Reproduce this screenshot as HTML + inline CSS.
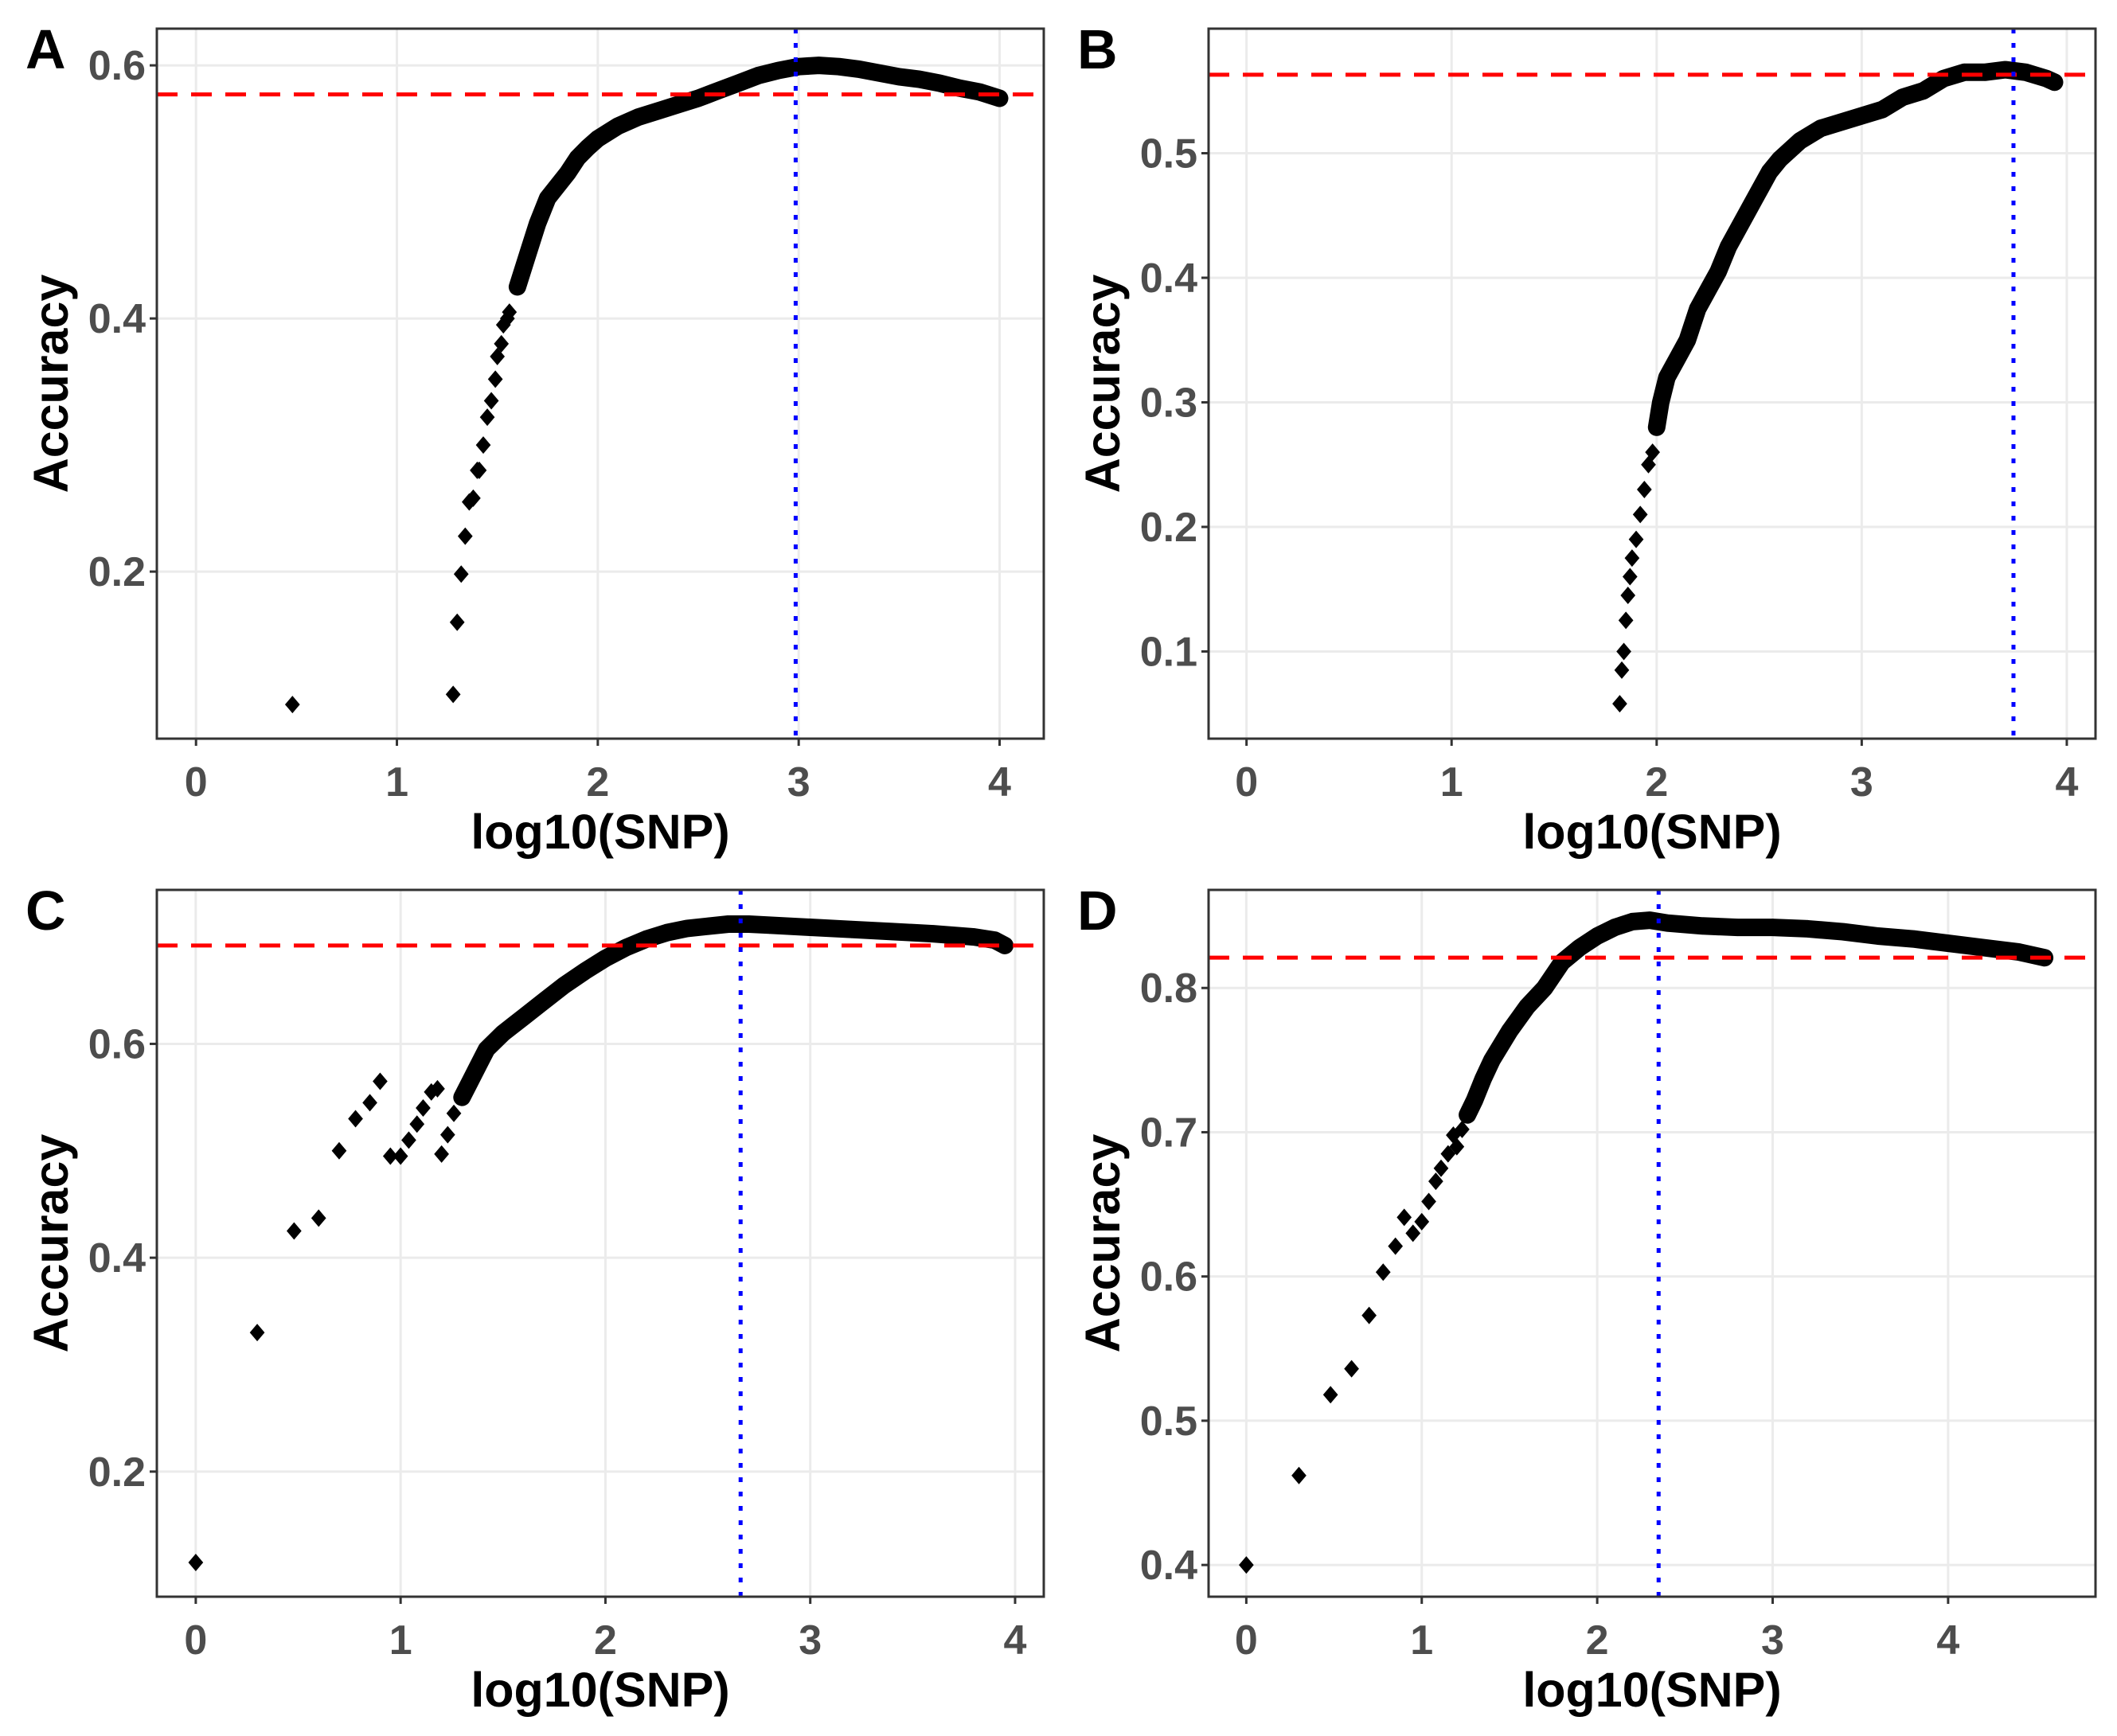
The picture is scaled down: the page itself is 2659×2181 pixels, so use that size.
<!DOCTYPE html>
<html><head><meta charset="utf-8">
<style>
html,body{margin:0;padding:0;background:#fff;}
svg{display:block;}
text{font-family:"Liberation Sans",Arial,sans-serif;}
</style></head>
<body>
<svg id="chart" width="2659" height="2181" viewBox="0 0 2659 2181" xmlns="http://www.w3.org/2000/svg"></svg>
<script>
// Panel A data
const aX = [0.48,1.28,1.30,1.32,1.34,1.36,1.38,1.40,1.41,1.43,1.45,1.47,1.49,1.50,1.52,1.53,1.55,1.56,1.60,1.65,1.70,1.75,1.80,1.85,1.90,1.95,2.00,2.10,2.20,2.30,2.40,2.50,2.60,2.70,2.80,2.90,3.00,3.10,3.20,3.30,3.40,3.50,3.60,3.70,3.80,3.90,4.00];
const aY = [0.095,0.103,0.160,0.198,0.228,0.255,0.258,0.280,0.280,0.300,0.322,0.335,0.352,0.370,0.380,0.395,0.400,0.405,0.425,0.450,0.475,0.495,0.505,0.515,0.527,0.535,0.542,0.552,0.559,0.564,0.569,0.574,0.580,0.586,0.592,0.596,0.599,0.600,0.599,0.597,0.594,0.591,0.589,0.586,0.582,0.579,0.574];
const aDenseFrom = 18;
// Panel B data
const bX = [1.82,1.83,1.84,1.85,1.86,1.87,1.88,1.90,1.92,1.94,1.96,1.98,2.00,2.02,2.05,2.10,2.15,2.20,2.25,2.30,2.35,2.40,2.45,2.50,2.55,2.60,2.70,2.80,2.90,3.00,3.10,3.20,3.30,3.40,3.50,3.60,3.70,3.80,3.90,3.94];
const bY = [0.058,0.085,0.100,0.125,0.145,0.160,0.175,0.190,0.210,0.230,0.250,0.260,0.280,0.300,0.320,0.335,0.350,0.375,0.390,0.405,0.425,0.440,0.455,0.470,0.485,0.495,0.510,0.520,0.525,0.530,0.535,0.545,0.550,0.560,0.565,0.565,0.567,0.565,0.560,0.557];
const bDenseFrom = 12;
// Panel C data
const cX = [0,0.30,0.48,0.60,0.70,0.78,0.85,0.90,0.95,1.00,1.04,1.08,1.11,1.15,1.18,1.20,1.23,1.26,1.30,1.34,1.38,1.42,1.50,1.60,1.70,1.80,1.90,2.00,2.10,2.20,2.30,2.40,2.50,2.60,2.70,2.80,3.00,3.20,3.40,3.60,3.80,3.90,3.95];
const cY = [0.115,0.330,0.425,0.437,0.500,0.530,0.545,0.565,0.495,0.495,0.510,0.525,0.540,0.555,0.558,0.497,0.515,0.535,0.550,0.565,0.580,0.595,0.610,0.625,0.640,0.655,0.668,0.680,0.690,0.698,0.704,0.708,0.710,0.712,0.712,0.711,0.709,0.707,0.705,0.703,0.700,0.697,0.692];
const cDenseFrom = 18;
// Panel D data
const dX = [0,0.30,0.48,0.60,0.70,0.78,0.85,0.90,0.95,1.00,1.04,1.08,1.11,1.15,1.18,1.20,1.23,1.26,1.30,1.35,1.40,1.50,1.60,1.70,1.80,1.90,2.00,2.10,2.20,2.30,2.40,2.60,2.80,3.00,3.20,3.40,3.60,3.80,4.00,4.20,4.40,4.55];
const dY = [0.400,0.462,0.518,0.536,0.573,0.603,0.621,0.641,0.630,0.638,0.652,0.666,0.675,0.685,0.698,0.690,0.702,0.712,0.722,0.737,0.750,0.770,0.787,0.800,0.818,0.828,0.836,0.842,0.846,0.847,0.845,0.843,0.842,0.842,0.841,0.839,0.836,0.834,0.831,0.828,0.825,0.821];
const dDenseFrom = 17;
// tick labels
const aXTicks = [0,1,2,3,4], aYTicks = [0.2,0.4,0.6];
const bXTicks = [0,1,2,3,4], bYTicks = [0.1,0.2,0.3,0.4,0.5];
const cXTicks = [0,1,2,3,4], cYTicks = [0.2,0.4,0.6];
const dXTicks = [0,1,2,3,4], dYTicks = [0.4,0.5,0.6,0.7,0.8];
// reference lines
const aRef = {h:0.577, v:2.985};
const bRef = {h:0.563, v:3.74};
const cRef = {h:0.692, v:2.66};
const dRef = {h:0.821, v:2.35};

const NS = "http://www.w3.org/2000/svg";
const svg = document.getElementById('chart');
function mk(tag, attrs, parent){
  const e = document.createElementNS(NS, tag);
  for (const k in attrs) e.setAttribute(k, attrs[k]);
  (parent||svg).appendChild(e);
  return e;
}
const panels = [
  {id:'a', letter:'A', L:197, R:1311, T:36, B:928, xd:[-0.195,4.22], yd:[0.068,0.629], X:aX, Y:aY, dense:aDenseFrom, xt:aXTicks, yt:aYTicks, ref:aRef, dec:1},
  {id:'b', letter:'B', L:1518, R:2632, T:36, B:928, xd:[-0.185,4.14], yd:[0.030,0.600], X:bX, Y:bY, dense:bDenseFrom, xt:bXTicks, yt:bYTicks, ref:bRef, dec:1},
  {id:'c', letter:'C', L:197, R:1311, T:1118, B:2006, xd:[-0.19,4.14], yd:[0.083,0.744], X:cX, Y:cY, dense:cDenseFrom, xt:cXTicks, yt:cYTicks, ref:cRef, dec:1},
  {id:'d', letter:'D', L:1518, R:2632, T:1118, B:2006, xd:[-0.215,4.84], yd:[0.378,0.868], X:dX, Y:dY, dense:dDenseFrom, xt:dXTicks, yt:dYTicks, ref:dRef, dec:1}
];
panels.forEach(p=>{
  const sx = v => p.L + (v - p.xd[0])/(p.xd[1]-p.xd[0])*(p.R-p.L);
  const sy = v => p.B - (v - p.yd[0])/(p.yd[1]-p.yd[0])*(p.B-p.T);
  const g = mk('g', {});
  
  
  p.xt.forEach(t=>{
    const l = mk('line',{x1:sx(t),x2:sx(t),y1:p.T,y2:p.B,stroke:'#ebebeb','stroke-width':3},g);
    
    
  });
  p.yt.forEach(t=>{
    const l = mk('line',{x1:p.L,x2:p.R,y1:sy(t),y2:sy(t),stroke:'#ebebeb','stroke-width':3},g);
    
    
  });
  let d = '';
  for (let i=p.dense;i<p.X.length;i++) d += (i===p.dense?'M':'L')+sx(p.X[i]).toFixed(1)+' '+sy(p.Y[i]).toFixed(1);
  const band = mk('path',{d:d,fill:'none',stroke:'#000','stroke-width':22,'stroke-linejoin':'round','stroke-linecap':'round'},g);
  
  
  for (let i=0;i<p.X.length;i++){
    const x=sx(p.X[i]), y=sy(p.Y[i]), r=11;
    const pt = mk('path',{d:`M${x} ${y-r}L${x+r*0.85} ${y}L${x} ${y+r}L${x-r*0.85} ${y}Z`,fill:'#000'},g);
    
    
  }
  const h = mk('line',{x1:p.L,x2:p.R,y1:sy(p.ref.h),y2:sy(p.ref.h),stroke:'#ff0000','stroke-width':5,'stroke-dasharray':'26 17'},g);
  
  
  const v = mk('line',{x1:sx(p.ref.v),x2:sx(p.ref.v),y1:p.T,y2:p.B,stroke:'#0000ff','stroke-width':5,'stroke-dasharray':'6 12'},g);
  
  
  const fr = mk('rect',{x:p.L,y:p.T,width:p.R-p.L,height:p.B-p.T,fill:'none',stroke:'#333','stroke-width':3},g);
  
  
  p.xt.forEach(t=>{
    const tk = mk('line',{x1:sx(t),x2:sx(t),y1:p.B,y2:p.B+9,stroke:'#333','stroke-width':3},g);
    
    
    const tx = mk('text',{x:sx(t),y:p.B+72,'text-anchor':'middle','font-size':52,'font-weight':'bold',fill:'#4d4d4d'},g);
    tx.textContent = String(t);
    
    
  });
  p.yt.forEach(t=>{
    const tk = mk('line',{x1:p.L-9,x2:p.L,y1:sy(t),y2:sy(t),stroke:'#333','stroke-width':3},g);
    
    
    const tx = mk('text',{x:p.L-14,y:sy(t)+18,'text-anchor':'end','font-size':52,'font-weight':'bold',fill:'#4d4d4d'},g);
    tx.textContent = t.toFixed(p.dec);
    
    
  });
  const xt = mk('text',{x:(p.L+p.R)/2,y:p.B+138,'text-anchor':'middle','font-size':61,'font-weight':'bold',fill:'#000'},g);
  xt.textContent = 'log10(SNP)';
  
  
  const yx = p.L-112, yy = (p.T+p.B)/2;
  const yt = mk('text',{x:yx,y:yy,'text-anchor':'middle','font-size':61,'font-weight':'bold',fill:'#000',transform:`rotate(-90 ${yx} ${yy})`},g);
  yt.textContent = 'Accuracy';
  
  
  const lt = mk('text',{x:p.L-165,y:p.T+50,'font-size':70,'font-weight':'bold',fill:'#000'},g);
  lt.textContent = p.letter;
  
  
});
</script>
</body></html>
